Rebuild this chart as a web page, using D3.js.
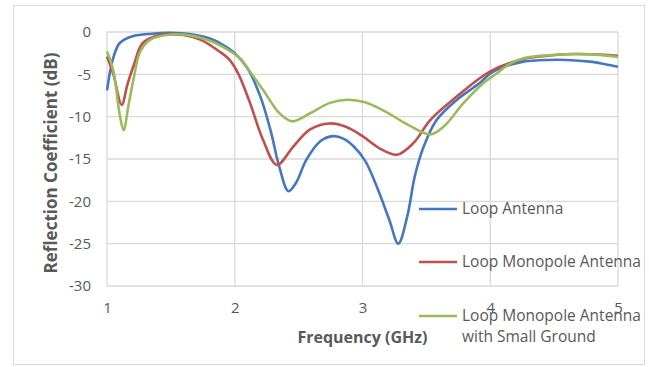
<!DOCTYPE html>
<html>
<head>
<meta charset="utf-8">
<script src="https://cdn.jsdelivr.net/npm/d3@7"></script>
<style>
	body{margin:0;background:#fff;}
	text{font-family:"Open Sans",sans-serif;fill:#595959;}
</style>
</head>
<body>
<div class="canvas"></div>
<script>
//Data (frequency in GHz, reflection in dB)
var loopFreq = [1.00,1.05,1.10,1.20,1.35,1.50,1.65,1.80,1.90,2.00,2.10,2.20,2.28,2.35,2.42,2.48,2.56,2.67,2.77,2.85,2.93,3.02,3.11,3.21,3.28,3.35,3.41,3.48,3.58,3.74,3.92,4.00,4.13,4.26,4.45,4.60,4.78,4.90,5.00];
var loopDb   = [-6.9,-3.0,-1.3,-0.5,-0.2,-0.1,-0.25,-0.75,-1.45,-2.5,-4.3,-7.6,-11.6,-16.0,-18.8,-17.8,-15.1,-12.9,-12.3,-12.6,-13.5,-15.2,-18.2,-22.2,-25.0,-21.8,-17.0,-13.5,-10.4,-8.0,-6.0,-4.9,-4.0,-3.5,-3.3,-3.3,-3.5,-3.8,-4.1];

var monoFreq = [1.00,1.05,1.115,1.16,1.21,1.28,1.41,1.50,1.60,1.73,1.88,1.96,2.03,2.12,2.22,2.33,2.46,2.59,2.74,2.87,3.00,3.14,3.27,3.40,3.53,3.74,4.00,4.26,4.45,4.65,4.85,5.00];
var monoDb   = [-2.9,-5.0,-8.6,-6.2,-3.9,-1.3,-0.35,-0.25,-0.35,-0.9,-2.3,-3.3,-5.0,-8.4,-12.7,-15.7,-13.5,-11.5,-10.8,-11.2,-12.3,-13.8,-14.5,-13.1,-10.4,-7.6,-4.65,-3.2,-2.8,-2.6,-2.65,-2.8];

var groundFreq = [1.00,1.05,1.10,1.13,1.17,1.21,1.26,1.34,1.50,1.65,1.80,1.90,2.04,2.13,2.22,2.35,2.45,2.59,2.74,2.88,3.02,3.18,3.35,3.53,3.64,3.79,3.95,4.05,4.15,4.26,4.45,4.70,4.85,5.00];
var groundDb   = [-2.3,-4.6,-9.8,-11.6,-8.5,-5.4,-2.3,-0.9,-0.3,-0.4,-1.0,-1.7,-3.1,-4.9,-6.8,-9.6,-10.55,-9.6,-8.4,-8.0,-8.3,-9.4,-10.9,-12.1,-11.1,-8.4,-6.0,-4.9,-3.8,-3.1,-2.75,-2.6,-2.7,-2.95];

var seriesNames  = ['Loop Antenna','Loop Monopole Antenna','Loop Monopole Antenna|with Small Ground'];
var seriesColors = ['#4677c0','#c0504d','#9bbb59'];
var xTicks = [1,2,3,4,5];
var yTicks = [0,-5,-10,-15,-20,-25,-30];

//Set up the drawing environment here
var W = 649, H = 367;
var plotArea = {l:107, r:618, t:32, b:286};

var svg = d3.select('.canvas')
	.append('svg')
	.attr('width',W)
	.attr('height',H);

//outer chart frame
svg.append('rect')
	.attr('x',13.5).attr('y',5.5)
	.attr('width',631).attr('height',359)
	.style('fill','#fff')
	.style('stroke','#d9d9d9')
	.style('stroke-width',1);

var x = d3.scaleLinear().domain([1,5]).range([plotArea.l,plotArea.r]);
var y = d3.scaleLinear().domain([-30,0]).range([plotArea.b,plotArea.t]);

//gridlines (they also form the plot border)
var grid = svg.append('g').attr('class','grid');
grid.selectAll('line.h')
	.data(yTicks)
	.enter()
	.append('line')
	.attr('x1',plotArea.l).attr('x2',plotArea.r)
	.attr('y1',function(d){return y(d);})
	.attr('y2',function(d){return y(d);})
	.style('stroke','#d9d9d9')
	.style('stroke-width',1.3);
grid.selectAll('line.v')
	.data(xTicks)
	.enter()
	.append('line')
	.attr('y1',plotArea.t).attr('y2',plotArea.b)
	.attr('x1',function(d){return x(d);})
	.attr('x2',function(d){return x(d);})
	.style('stroke','#d9d9d9')
	.style('stroke-width',1.3);

//axes, using d3 axis then stripping the domain/tick lines
svg.append('g')
	.attr('transform','translate(0,'+plotArea.b+')')
	.call(d3.axisBottom(x).tickValues(xTicks).tickSize(0).tickPadding(16).tickFormat(d3.format('d')));
svg.append('g')
	.attr('transform','translate('+plotArea.l+',0)')
	.call(d3.axisLeft(y).tickValues(yTicks).tickSize(0).tickPadding(16).tickFormat(function(d){return d===0?'0':'-'+Math.abs(d);}));
svg.selectAll('.domain').remove();
svg.selectAll('.tick text')
	.style('font-family','"Open Sans",sans-serif')
	.style('font-size','15px')
	.style('fill','#595959');

//axis titles
svg.append('text')
	.attr('x',(plotArea.l+plotArea.r)/2)
	.attr('y',343)
	.attr('text-anchor','middle')
	.style('font-size','16px')
	.style('font-weight','bold')
	.text('Frequency (GHz)');
svg.append('text')
	.attr('transform','translate(57,163) rotate(-90)')
	.attr('text-anchor','middle')
	.style('font-size','17px')
	.style('font-weight','bold')
	.text('Reflection Coefficient (dB)');

//the three curves
var line = d3.line()
	.x(function(d){return x(d[0]);})
	.y(function(d){return y(d[1]);})
	.curve(d3.curveCatmullRom.alpha(0.5));

var allSeries = [
	d3.zip(loopFreq,loopDb),
	d3.zip(monoFreq,monoDb),
	d3.zip(groundFreq,groundDb)
];

allSeries.forEach(function(pts,i){
	svg.append('path')
		.datum(pts)
		.attr('d',line)
		.style('fill','none')
		.style('stroke',seriesColors[i])
		.style('stroke-width',2.6)
		.style('stroke-linejoin','round');
});

//legend, sits over the plot like the original
var legendY = [209,262,316];
seriesNames.forEach(function(name,i){
	var g = svg.append('g');
	g.append('line')
		.attr('x1',419).attr('x2',457)
		.attr('y1',legendY[i]).attr('y2',legendY[i])
		.style('stroke',seriesColors[i])
		.style('stroke-width',2.6);
	name.split('|').forEach(function(part,j){
		g.append('text')
			.attr('x',462)
			.attr('y',legendY[i]+5+j*21)
			.style('font-size','15.5px')
			.text(part);
	});
});
</script>
</body>
</html>
